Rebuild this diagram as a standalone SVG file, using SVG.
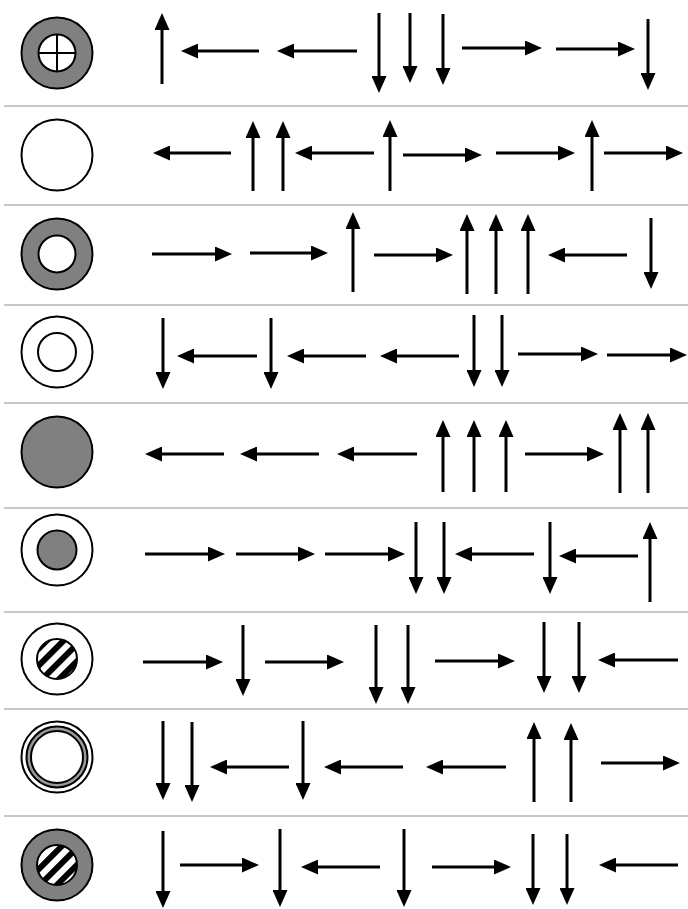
<svg xmlns="http://www.w3.org/2000/svg" width="688" height="909" viewBox="0 0 688 909">
<style>
.sep{stroke:#c8c8c8;stroke-width:2}
.o{stroke:#000;stroke-width:2}
.g{fill:#808080}
.w{fill:#fff}
.a{stroke:#000;stroke-width:3;fill:none;marker-end:url(#ah)}
</style>
<defs>
<marker id="ah" markerUnits="userSpaceOnUse" markerWidth="17" markerHeight="15" viewBox="0 0 17 15" refX="3" refY="7.5" orient="auto">
<path d="M0,0 L17,7.5 L0,15 z" fill="#000"/>
</marker>
<pattern id="hatch" patternUnits="userSpaceOnUse" width="12" height="12" patternTransform="rotate(45)">
<rect width="12" height="12" fill="#fff"/>
<rect x="3" width="6" height="12" fill="#000"/>
</pattern>
</defs>
<rect width="688" height="909" fill="#fff"/>
<g id="separators">
<line class="sep" x1="4" y1="106" x2="688" y2="106"/>
<line class="sep" x1="4" y1="205" x2="688" y2="205"/>
<line class="sep" x1="4" y1="305" x2="688" y2="305"/>
<line class="sep" x1="4" y1="403" x2="688" y2="403"/>
<line class="sep" x1="4" y1="508" x2="688" y2="508"/>
<line class="sep" x1="4" y1="612" x2="688" y2="612"/>
<line class="sep" x1="4" y1="709" x2="688" y2="709"/>
<line class="sep" x1="4" y1="816" x2="688" y2="816"/>
</g>
<g id="icon1">
<circle class="o g" cx="57" cy="53" r="35.5"/>
<circle class="o w" cx="57" cy="53" r="18.5"/>
<line class="o" x1="38.5" y1="53" x2="75.5" y2="53"/>
<line class="o" x1="57" y1="34.5" x2="57" y2="71.5"/>
</g>
<g id="icon2">
<circle class="o w" cx="57" cy="155" r="35.5"/>
</g>
<g id="icon3">
<circle class="o g" cx="57" cy="254" r="35.5"/>
<circle class="o w" cx="57" cy="254" r="18.5"/>
</g>
<g id="icon4">
<circle class="o w" cx="57" cy="352" r="35.5"/>
<circle class="o w" cx="57" cy="352" r="19"/>
</g>
<g id="icon5">
<circle class="o g" cx="57" cy="452" r="35.5"/>
</g>
<g id="icon6">
<circle class="o w" cx="57" cy="550" r="35.5"/>
<circle class="o g" cx="57" cy="550" r="19.5"/>
</g>
<g id="icon7">
<circle class="o w" cx="57" cy="659" r="35.5"/>
<circle class="o" cx="57" cy="659" r="20" fill="url(#hatch)"/>
</g>
<g id="icon8">
<circle class="o w" cx="57" cy="757" r="35.5"/>
<circle class="o" cx="57" cy="757" r="30.5" fill="#999"/>
<circle class="o w" cx="57" cy="757" r="26"/>
</g>
<g id="icon9">
<circle class="o g" cx="57" cy="865" r="35.5"/>
<circle class="o" cx="57" cy="865" r="20" fill="url(#hatch)"/>
</g>
<g id="connectors">
<line class="a" x1="162" y1="84" x2="162" y2="27"/>
<line class="a" x1="259" y1="51" x2="195" y2="51"/>
<line class="a" x1="357" y1="51" x2="291" y2="51"/>
<line class="a" x1="379" y1="13" x2="379" y2="79"/>
<line class="a" x1="410" y1="13" x2="410" y2="69"/>
<line class="a" x1="443" y1="14" x2="443" y2="71"/>
<line class="a" x1="462" y1="48" x2="528" y2="48"/>
<line class="a" x1="556" y1="49" x2="621" y2="49"/>
<line class="a" x1="648" y1="19" x2="648" y2="76"/>

<line class="a" x1="231" y1="153" x2="167" y2="153"/>
<line class="a" x1="253" y1="191" x2="253" y2="135"/>
<line class="a" x1="283" y1="191" x2="283" y2="135"/>
<line class="a" x1="374" y1="153" x2="309" y2="153"/>
<line class="a" x1="390" y1="191" x2="390" y2="134"/>
<line class="a" x1="403" y1="155" x2="468" y2="155"/>
<line class="a" x1="496" y1="153" x2="561" y2="153"/>
<line class="a" x1="592" y1="191" x2="592" y2="134"/>
<line class="a" x1="604" y1="153" x2="669" y2="153"/>

<line class="a" x1="152" y1="254" x2="218" y2="254"/>
<line class="a" x1="250" y1="253" x2="314" y2="253"/>
<line class="a" x1="353" y1="292" x2="353" y2="226"/>
<line class="a" x1="374" y1="255" x2="439" y2="255"/>
<line class="a" x1="467" y1="294" x2="467" y2="228"/>
<line class="a" x1="496" y1="294" x2="496" y2="228"/>
<line class="a" x1="528" y1="294" x2="528" y2="228"/>
<line class="a" x1="627" y1="255" x2="562" y2="255"/>
<line class="a" x1="651" y1="218" x2="651" y2="275"/>

<line class="a" x1="163" y1="318" x2="163" y2="375"/>
<line class="a" x1="257" y1="356" x2="191" y2="356"/>
<line class="a" x1="271" y1="318" x2="271" y2="375"/>
<line class="a" x1="366" y1="356" x2="301" y2="356"/>
<line class="a" x1="459" y1="356" x2="394" y2="356"/>
<line class="a" x1="474" y1="315" x2="474" y2="373"/>
<line class="a" x1="502" y1="315" x2="502" y2="373"/>
<line class="a" x1="518" y1="354" x2="584" y2="354"/>
<line class="a" x1="607" y1="355" x2="673" y2="355"/>

<line class="a" x1="224" y1="454" x2="159" y2="454"/>
<line class="a" x1="319" y1="454" x2="254" y2="454"/>
<line class="a" x1="417" y1="454" x2="351" y2="454"/>
<line class="a" x1="443" y1="492" x2="443" y2="434"/>
<line class="a" x1="474" y1="492" x2="474" y2="434"/>
<line class="a" x1="506" y1="492" x2="506" y2="434"/>
<line class="a" x1="525" y1="454" x2="590" y2="454"/>
<line class="a" x1="620" y1="493" x2="620" y2="427"/>
<line class="a" x1="648" y1="493" x2="648" y2="427"/>

<line class="a" x1="145" y1="554" x2="211" y2="554"/>
<line class="a" x1="236" y1="554" x2="301" y2="554"/>
<line class="a" x1="325" y1="554" x2="391" y2="554"/>
<line class="a" x1="416" y1="522" x2="416" y2="580"/>
<line class="a" x1="444" y1="522" x2="444" y2="580"/>
<line class="a" x1="534" y1="554" x2="469" y2="554"/>
<line class="a" x1="550" y1="522" x2="550" y2="580"/>
<line class="a" x1="638" y1="556" x2="573" y2="556"/>
<line class="a" x1="650" y1="602" x2="650" y2="536"/>

<line class="a" x1="143" y1="662" x2="209" y2="662"/>
<line class="a" x1="243" y1="625" x2="243" y2="682"/>
<line class="a" x1="265" y1="662" x2="330" y2="662"/>
<line class="a" x1="376" y1="625" x2="376" y2="690"/>
<line class="a" x1="408" y1="625" x2="408" y2="690"/>
<line class="a" x1="435" y1="661" x2="501" y2="661"/>
<line class="a" x1="544" y1="622" x2="544" y2="679"/>
<line class="a" x1="579" y1="622" x2="579" y2="679"/>
<line class="a" x1="678" y1="660" x2="612" y2="660"/>

<line class="a" x1="163" y1="721" x2="163" y2="786"/>
<line class="a" x1="192" y1="722" x2="192" y2="788"/>
<line class="a" x1="289" y1="767" x2="224" y2="767"/>
<line class="a" x1="303" y1="721" x2="303" y2="786"/>
<line class="a" x1="403" y1="767" x2="338" y2="767"/>
<line class="a" x1="506" y1="767" x2="440" y2="767"/>
<line class="a" x1="534" y1="802" x2="534" y2="736"/>
<line class="a" x1="571" y1="802" x2="571" y2="737"/>
<line class="a" x1="601" y1="763" x2="666" y2="763"/>

<line class="a" x1="163" y1="831" x2="163" y2="894"/>
<line class="a" x1="180" y1="865" x2="245" y2="865"/>
<line class="a" x1="280" y1="829" x2="280" y2="893"/>
<line class="a" x1="380" y1="867" x2="315" y2="867"/>
<line class="a" x1="404" y1="829" x2="404" y2="893"/>
<line class="a" x1="432" y1="867" x2="497" y2="867"/>
<line class="a" x1="533" y1="834" x2="533" y2="891"/>
<line class="a" x1="567" y1="834" x2="567" y2="891"/>
<line class="a" x1="678" y1="865" x2="613" y2="865"/>
</g>
</svg>
